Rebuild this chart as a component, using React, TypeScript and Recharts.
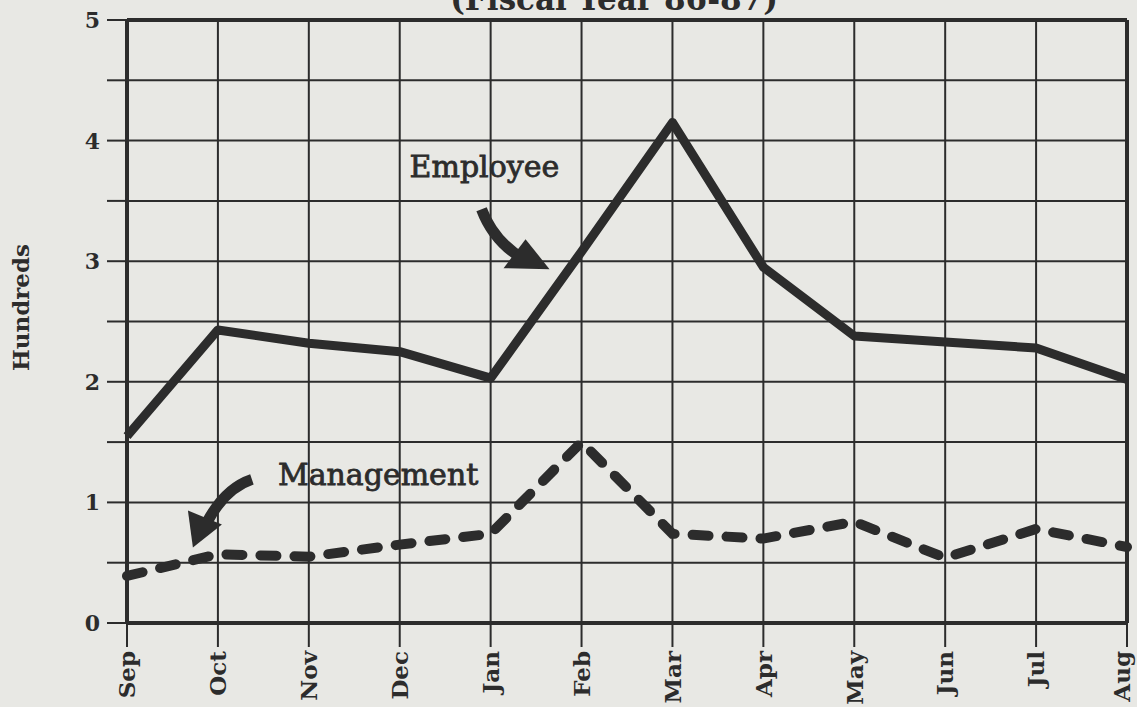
import { LineChart, Line, XAxis, YAxis, CartesianGrid, ReferenceLine, ReferenceDot } from 'recharts'

const months = ['Sep', 'Oct', 'Nov', 'Dec', 'Jan', 'Feb', 'Mar', 'Apr', 'May', 'Jun', 'Jul', 'Aug']
const employee = [1.55, 2.43, 2.32, 2.25, 2.03, 3.08, 4.15, 2.95, 2.38, 2.33, 2.28, 2.02]
const management = [0.39, 0.57, 0.55, 0.65, 0.74, 1.5, 0.74, 0.7, 0.84, 0.54, 0.78, 0.63]
const yTicks = [0, 0.5, 1, 1.5, 2, 2.5, 3, 3.5, 4, 4.5, 5]

const title = '(Fiscal Year 86-87)'
const yLabel = 'Hundreds'

const data = months.map((m, i) => ({ month: m, employee: employee[i], management: management[i] }))

const INK = '#2c2c2c'
const PAPER = '#e8e8e4'
const FONT = '"DejaVu Serif", "Liberation Serif", serif'

function MonthTick(props: any) {
  const { x, y, payload, index } = props
  // last label sits on the page edge, nudge it in a little
  const dy = index === months.length - 1 ? '0.12em' : '0.36em'
  return (
    <g transform={`translate(${x},${y})`}>
      <text
        x={0}
        y={0}
        dy={dy}
        textAnchor="end"
        transform="rotate(-90)"
        fill={INK}
        fontFamily={FONT}
        fontWeight="bold"
        fontSize={23}
      >
        {payload.value}
      </text>
    </g>
  )
}

function ValueTick(props: any) {
  const { x, y, payload } = props
  if (!Number.isInteger(payload.value)) return null
  return (
    <text x={x} y={y} dy="0.36em" textAnchor="end" fill={INK} fontFamily={FONT} fontWeight="bold" fontSize={22}>
      {payload.value}
    </text>
  )
}

function YTitle(props: any) {
  const vb = props.viewBox
  const x = vb.x + 29
  const y = vb.y + vb.height / 2 - 14
  return (
    <text
      x={x}
      y={y}
      textAnchor="middle"
      transform={`rotate(-90, ${x}, ${y})`}
      fill={INK}
      fontFamily={FONT}
      fontWeight="bold"
      fontSize={23}
    >
      {yLabel}
    </text>
  )
}

// annotation: label + curved arrow, drawn relative to the dot position
function EmployeeNote(props: any) {
  const { cx, cy } = props
  return (
    <g transform={`translate(${cx},${cy})`}>
      <text x={-172} y={-84} fill={INK} stroke={INK} strokeWidth={0.8} fontFamily={FONT} fontSize={30}>
        Employee
      </text>
      <path d="M -100,-52 Q -88,-20 -58,-2" fill="none" stroke={INK} strokeWidth={11} />
      <polygon points="-56,-22 -78,7 -32,8" fill={INK} />
    </g>
  )
}

function ManagementNote(props: any) {
  const { cx, cy } = props
  return (
    <g transform={`translate(${cx},${cy})`}>
      <text x={60} y={-17} fill={INK} stroke={INK} strokeWidth={0.8} fontFamily={FONT} fontSize={30}>
        Management
      </text>
      <path d="M 34,-23 Q 7,-14 -11,20" fill="none" stroke={INK} strokeWidth={11} />
      <polygon points="-30,8 4,22 -25,45" fill={INK} />
    </g>
  )
}

export default function App() {
  return (
    <div style={{ position: 'absolute', left: 0, top: 0, width: 1137, height: 707, background: PAPER, overflow: 'hidden' }}>
      <svg width={1137} height={40} style={{ position: 'absolute', left: 0, top: 0 }}>
        <text x={614} y={10} textAnchor="middle" fill={INK} fontFamily={FONT} fontWeight="bold" fontSize={31}>
          {title}
        </text>
      </svg>
      <LineChart width={1137} height={707} data={data} margin={{ top: 20, right: 10, bottom: 0, left: 0 }}>
        <CartesianGrid stroke={INK} strokeWidth={2} strokeOpacity={1} />
        <XAxis
          dataKey="month"
          interval={0}
          height={84}
          tickSize={24}
          tickMargin={4}
          tick={<MonthTick />}
          axisLine={{ stroke: INK, strokeWidth: 4 }}
          tickLine={{ stroke: INK, strokeWidth: 2 }}
        />
        <YAxis
          type="number"
          domain={[0, 5]}
          ticks={yTicks}
          interval={0}
          width={127}
          tickSize={20}
          tickMargin={7}
          tick={<ValueTick />}
          axisLine={{ stroke: INK, strokeWidth: 4 }}
          tickLine={{ stroke: INK, strokeWidth: 2 }}
          label={<YTitle />}
        />
        <ReferenceLine y={5} stroke={INK} strokeWidth={4} />
        <ReferenceLine x="Aug" stroke={INK} strokeWidth={4} />
        <Line
          dataKey="employee"
          stroke={INK}
          strokeWidth={9}
          strokeLinejoin="round"
          dot={false}
          isAnimationActive={false}
          type="linear"
        />
        <Line
          dataKey="management"
          stroke={INK}
          strokeWidth={10}
          strokeDasharray="16 18"
          strokeLinecap="round"
          dot={false}
          isAnimationActive={false}
          type="linear"
        />
        <ReferenceDot x="Feb" y={3} r={0} shape={EmployeeNote} />
        <ReferenceDot x="Oct" y={1} r={0} shape={ManagementNote} />
      </LineChart>
    </div>
  )
}
